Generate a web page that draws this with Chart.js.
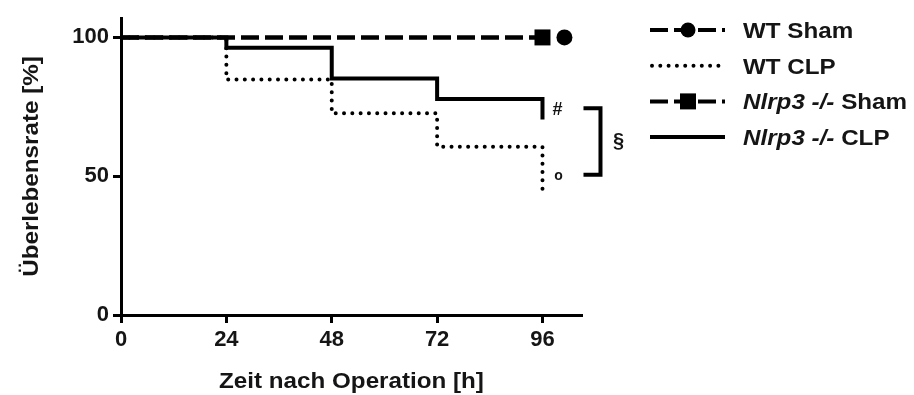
<!DOCTYPE html>
<html>
<head>
<meta charset="utf-8">
<script src="https://cdn.jsdelivr.net/npm/chart.js@4.4.1/dist/chart.umd.min.js"></script>
<style>
  html, body { margin: 0; padding: 0; background: #fff; }
  #wrap { width: 914px; height: 395px; }
</style>
</head>
<body>
<div id="wrap"><canvas id="chart" width="914" height="395"></canvas></div>
<script>
// time points (h) and survival (%)
const hours = [0, 24, 48, 72, 96];
const wtSham = [100, 100, 100, 100, 100];
const wtClp = [100, 84.8, 72.7, 60.6, 43.5];
const nlrpSham = [100, 100, 100, 100, 100];
const nlrpClp = [100, 96.3, 85.2, 77.8, 70.4];
// censor markers of the sham groups (GraphPad shifts them a bit)
const wtShamMarker = [{ x: 101, y: 100 }];
const nlrpShamMarker = [{ x: 96, y: 100 }];

const xTicks = [0, 24, 48, 72, 96];
const yTicks = [0, 50, 100];

const legendItems = [
    { italic: '', plain: 'WT Sham', style: 'dash', marker: 'circle' },
    { italic: '', plain: 'WT CLP', style: 'dot', marker: null },
    { italic: 'Nlrp3 -/-', plain: ' Sham', style: 'dash', marker: 'rect' },
    { italic: 'Nlrp3 -/-', plain: ' CLP', style: 'solid', marker: null }
];

const FONT = '"Liberation Sans", Arial, Helvetica, sans-serif';
const TEXT = '#151515';
const DASH = [18, 6];
const DOT = [0, 8.3];

function toPoints(values) {
    return hours.map((h, i) => ({ x: h, y: values[i] }));
}

function stretchText(ctx, str, x, y, sx) {
    ctx.save();
    ctx.translate(x, y);
    ctx.scale(sx, 1);
    ctx.fillText(str, 0, 0);
    ctx.restore();
}

const extras = {
    id: 'extras',
    afterDraw(chart) {
        const ctx = chart.ctx;
        const xs = chart.scales.x;
        const ys = chart.scales.y;
        const area = chart.chartArea;
        const sx = 1.1;

        ctx.save();
        ctx.fillStyle = TEXT;

        // axis titles
        ctx.font = 'bold 22px ' + FONT;
        ctx.textBaseline = 'alphabetic';
        let t = 'Zeit nach Operation [h]';
        let w = ctx.measureText(t).width * sx;
        stretchText(ctx, t, (area.left + area.right) / 2 - w / 2, 388, sx);

        t = 'Überlebensrate [%]';
        w = ctx.measureText(t).width * sx;
        ctx.save();
        ctx.translate(38, (area.top + area.bottom) / 2 + w / 2);
        ctx.rotate(-Math.PI / 2);
        stretchText(ctx, t, 0, 0, sx);
        ctx.restore();

        // significance marks
        const xe = xs.getPixelForValue(96);
        ctx.textAlign = 'center';
        ctx.textBaseline = 'middle';
        ctx.font = 'bold 18px ' + FONT;
        ctx.fillText('#', xe + 15, ys.getPixelForValue(nlrpClp[nlrpClp.length - 1]) - 10);
        ctx.font = 'bold 14px ' + FONT;
        ctx.fillText('o', xe + 16, ys.getPixelForValue(wtClp[wtClp.length - 1]) - 18);

        const bTop = ys.getPixelForValue(74.5);
        const bBot = ys.getPixelForValue(50.5);
        ctx.strokeStyle = '#000';
        ctx.lineWidth = 4;
        ctx.lineJoin = 'miter';
        ctx.beginPath();
        ctx.moveTo(xe + 41, bTop);
        ctx.lineTo(xe + 58, bTop);
        ctx.lineTo(xe + 58, bBot);
        ctx.lineTo(xe + 41, bBot);
        ctx.stroke();
        ctx.font = 'bold 20px ' + FONT;
        ctx.fillText('§', xe + 76, (bTop + bBot) / 2);

        // legend
        const lx = area.right + 68;
        const tx = lx + 93;
        legendItems.forEach((item, i) => {
            const y = area.top + 12 + i * 35.7;
            ctx.save();
            ctx.strokeStyle = '#000';
            ctx.lineWidth = 4;
            ctx.lineCap = item.style === 'dot' ? 'round' : 'butt';
            ctx.setLineDash(item.style === 'dash' ? DASH : item.style === 'dot' ? DOT : []);
            ctx.beginPath();
            ctx.moveTo(lx + (item.style === 'dot' ? 2 : 0), y);
            ctx.lineTo(lx + 75, y);
            ctx.stroke();
            ctx.setLineDash([]);
            ctx.fillStyle = '#000';
            if (item.marker === 'circle') {
                ctx.beginPath();
                ctx.arc(lx + 38, y, 7.5, 0, Math.PI * 2);
                ctx.fill();
            } else if (item.marker === 'rect') {
                ctx.fillRect(lx + 30, y - 8, 16, 16);
            }
            ctx.restore();

            ctx.textAlign = 'left';
            ctx.textBaseline = 'alphabetic';
            let x = tx;
            if (item.italic) {
                ctx.font = 'italic bold 22px ' + FONT;
                stretchText(ctx, item.italic, x, y + 8, sx);
                x += ctx.measureText(item.italic).width * sx;
            }
            ctx.font = 'bold 22px ' + FONT;
            stretchText(ctx, item.plain, x, y + 8, sx);
        });
        ctx.restore();
    }
};

const data = {
    datasets: [
        {
            label: 'Nlrp3 -/- CLP',
            data: toPoints(nlrpClp),
            stepped: true,
            borderColor: '#000',
            borderWidth: 4,
            pointRadius: 0,
            order: 0
        },
        {
            label: 'WT CLP',
            data: toPoints(wtClp),
            stepped: true,
            borderColor: '#000',
            borderWidth: 4,
            borderDash: DOT,
            borderCapStyle: 'round',
            pointRadius: 0,
            order: 1
        },
        {
            label: 'WT Sham',
            data: toPoints(wtSham),
            stepped: true,
            borderColor: '#000',
            borderWidth: 4,
            borderDash: DASH,
            pointRadius: 0,
            order: 2
        },
        {
            label: 'Nlrp3 -/- Sham',
            data: toPoints(nlrpSham),
            stepped: true,
            borderColor: '#000',
            borderWidth: 4,
            borderDash: DASH,
            pointRadius: 0,
            order: 3
        },
        {
            label: 'WT Sham marker',
            data: wtShamMarker,
            showLine: false,
            pointStyle: 'circle',
            pointRadius: 8,
            borderWidth: 0,
            backgroundColor: '#000',
            order: 0
        },
        {
            label: 'Nlrp3 -/- Sham marker',
            data: nlrpShamMarker,
            showLine: false,
            pointStyle: 'rect',
            pointRadius: 11.3,
            borderWidth: 0,
            backgroundColor: '#000',
            order: 0
        }
    ]
};

const axisCommon = {
    grid: {
        display: true,
        drawOnChartArea: false,
        drawTicks: true,
        tickLength: 8,
        tickWidth: 3,
        tickColor: '#000'
    },
    border: { display: true, color: '#000', width: 3 }
};

new Chart(document.getElementById('chart').getContext('2d'), {
    type: 'line',
    data,
    plugins: [extras],
    options: {
        responsive: false,
        animation: false,
        events: [],
        layout: { padding: { top: 18, right: 332, left: 0, bottom: 0 } },
        scales: {
            x: {
                ...axisCommon,
                type: 'linear',
                min: 0,
                max: 105,
                afterBuildTicks: axis => { axis.ticks = xTicks.map(v => ({ value: v })); },
                afterFit: scale => { scale.height = 80; },
                ticks: {
                    color: TEXT,
                    padding: 4,
                    maxRotation: 0,
                    font: { family: FONT, size: 22, weight: 'bold' }
                }
            },
            y: {
                ...axisCommon,
                type: 'linear',
                min: 0,
                max: 107,
                afterBuildTicks: axis => { axis.ticks = yTicks.map(v => ({ value: v })); },
                afterFit: scale => { scale.width = 121; },
                ticks: {
                    color: TEXT,
                    padding: 4,
                    font: { family: FONT, size: 22, weight: 'bold' }
                }
            }
        },
        plugins: {
            legend: { display: false },
            tooltip: { enabled: false }
        }
    }
});
</script>
</body>
</html>
